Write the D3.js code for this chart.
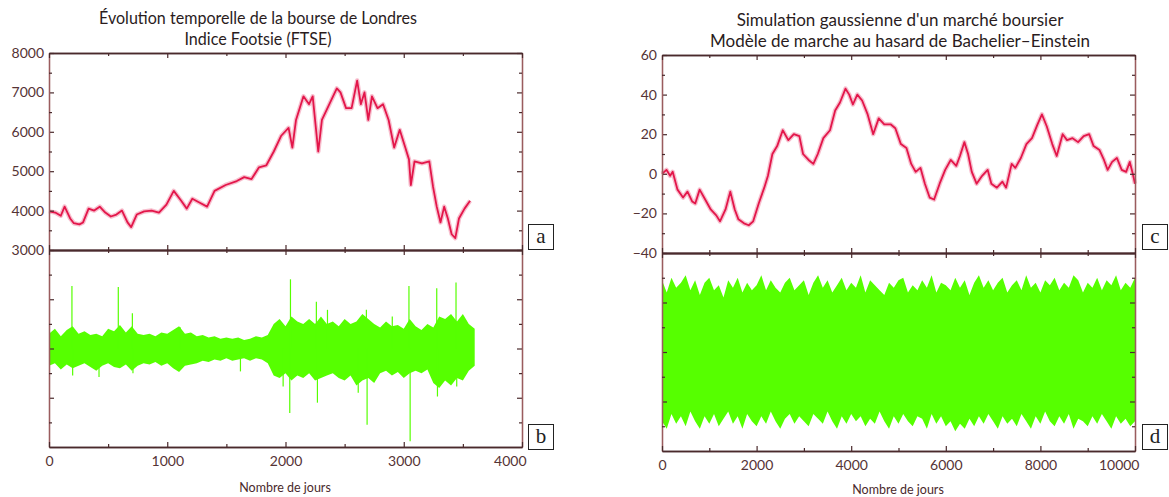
<!DOCTYPE html>
<html>
<head>
<meta charset="utf-8">
<script src="https://cdn.jsdelivr.net/npm/d3@7"></script>
<style>
  body { margin: 0; background: #fff; }
  svg { font-family: Lato, "Open Sans", sans-serif; }
</style>
</head>
<body>
<div id="chart"></div>
<script>
// ---- Data ----

// Panel a: FTSE index, trading day / index level
const ftseDays = [0,53,100,132,179,210,257,288,335,382,429,476,523,570,617,664,695,742,805,868,
  930,993,1055,1118,1165,1212,1275,1337,1400,1494,1588,1651,1713,1776,1838,1901,1964,2026,2058,2089,
  2152,2199,2230,2277,2308,2371,2434,2465,2512,2559,2606,2637,2668,2700,2731,2778,2825,2872,2919,2966,
  3013,3044,3060,3091,3154,3216,3248,3279,3311,3342,3373,3405,3436,3467,3514,3561];
const ftseValues = [3980,3950,3870,4100,3800,3680,3650,3700,4050,4000,4100,3950,3850,3900,4000,3700,3580,3900,3980,4000,
  3950,4150,4500,4250,4050,4300,4200,4100,4500,4650,4750,4850,4800,5100,5150,5500,5900,6100,5600,6300,
  6900,6700,6900,5500,6300,6700,7100,7000,6600,6600,7300,6700,7000,6300,6900,6600,6700,6300,5600,6050,
  5600,5300,4650,5250,5200,5250,4600,4100,3700,4100,3800,3400,3300,3800,4050,4250];

// Panel b: daily variations of the FTSE, band envelope (every 50 days) and isolated spikes
const bDays = d3.range(0, 3601, 50);
const bHigh = [0.6,0.8,0.5,0.75,0.9,0.6,0.7,0.55, 0.6,0.5,0.8,0.7,0.95,0.65,0.9,0.6,
  0.55,0.6,0.5,0.65,0.6,0.75,0.9,0.6, 0.65,0.5,0.55,0.45,0.5,0.4,0.45,0.4,
  0.45,0.35,0.4,0.5,0.45,0.55, 1.0,1.2,0.9,1.3,1.1,1.0,1.2,1.0,
  1.3,1.0,1.1,0.9,1.2,1.0,1.1,1.4, 1.2,1.0,0.85,1.1,0.9,0.95,0.8,1.2,
  0.9,0.75,1.0,0.85,1.3,1.2,1.4,1.1, 1.4,1.0,0.8];
const bLow = [-0.7,-0.6,-0.85,-0.65,-0.8,-0.7,-0.6,-0.75, -0.9,-0.7,-0.6,-0.75,-0.8,-0.65,-0.9,-0.7,
  -0.6,-0.65,-0.55,-0.7,-0.6,-0.8,-0.95,-0.7, -0.65,-0.6,-0.5,-0.55,-0.45,-0.5,-0.4,-0.5,
  -0.45,-0.4,-0.5,-0.4,-0.45,-0.6, -1.1,-1.2,-1.0,-1.3,-1.1,-1.2,-1.0,-1.3,
  -1.2,-1.1,-1.0,-1.2,-1.3,-1.1,-1.5,-1.3, -1.2,-1.4,-1.0,-0.9,-1.1,-0.95,-1.2,-1.0,
  -0.9,-1.0,-0.85,-1.4,-1.6,-1.3,-1.5,-1.2, -1.3,-0.9,-0.7];
const bSpikeDays   = [194,200,423,586,705,710,1109,1619,1980,2036,2042,2261,2270,2355,2615,2684,2690,2903,3044,3054,3279,3285,3442,3448];
const bSpikeValues = [2.54,-1.1,-1.16,2.5,1.43,-1.0,0.86,-0.93,-1.54,-2.62,2.81,1.9,-2.2,1.57,-1.8,1.57,-3.1,1.3,2.54,-3.77,2.45,-1.95,2.68,-1.54];

// Panel c: Bachelier-Einstein random walk
const walkDays = [0,94,172,226,328,445,539,640,703,796,913,1030,1147,1226,1343,1444,1538,1616,1733,1834,
  1928,2045,2162,2240,2334,2435,2553,2670,2787,2904,2982,3099,3200,3294,3411,3552,3661,3763,3880,3958,
  4036,4129,4231,4348,4465,4582,4699,4832,4933,5050,5168,5269,5363,5464,5558,5659,5753,5870,5987,6104,
  6221,6299,6393,6471,6549,6651,6768,6885,6963,7080,7197,7275,7392,7470,7587,7704,7822,7939,8032,8134,
  8251,8345,8470,8563,8680,8797,8915,9032,9125,9250,9344,9422,9516,9617,9719,9812,9890,9953,10000];
const walkValues = [0,2,-1,1,-8,-12,-9,-14,-15,-8,-13,-18,-21,-24,-18,-9,-18,-23,-25,-26,
  -24,-15,-7,-1,10,14,22,17,20,19,10,7,5,10,18,22,32,36,43,40,
  35,40,37,30,20,28,25,25,23,15,13,5,1,3,-5,-12,-13,-5,2,7,
  4,9,16,10,1,-5,-1,2,-5,-7,-4,-7,5,3,8,15,18,25,30,24,
  15,9,20,17,18,16,19,20,14,12,7,2,6,8,2,1,6,0,-5];

// Panel d: gaussian increments, envelope of the band every 100 days
const dDays = d3.range(0, 10001, 100);
const dHigh = [2.9,2.4,3.0,2.6,2.8,3.1,2.5,2.9,2.3,2.8, 3.0,2.5,2.7,2.2,2.9,2.6,3.0,2.4,2.8,2.5,
  2.7,3.1,2.5,2.9,2.6,2.4,2.8,3.0,2.5,2.7, 2.9,2.3,2.8,3.1,2.6,2.9,2.4,2.7,3.0,2.5,
  2.8,2.6,3.1,2.4,2.9,2.7,2.5,2.3,2.8,2.6, 2.9,3.0,2.4,2.7,2.5,2.9,2.6,3.1,2.4,2.8,
  2.7,2.5,3.0,2.6,2.9,2.3,2.8,3.1,2.6,2.9, 2.5,2.8,3.0,2.4,2.7,2.9,2.5,3.1,2.6,2.8,
  2.4,2.9,2.7,3.0,2.5,2.8,2.6,3.1,2.9,2.4, 2.8,2.6,3.0,2.5,2.9,2.7,3.1,2.5,2.8,2.6, 3.0];
const dLow = [-2.8,-3.1,-2.5,-2.9,-2.6,-3.0,-2.4,-2.8,-3.1,-2.6, -2.9,-2.5,-3.0,-2.7,-2.4,-2.9,-2.6,-3.1,-2.5,-2.8,
  -3.0,-2.6,-2.9,-2.4,-2.8,-3.1,-2.7,-2.5,-2.9,-2.6, -2.8,-3.0,-2.5,-2.7,-2.9,-2.4,-2.8,-3.1,-2.6,-2.9,
  -2.5,-2.8,-2.6,-3.0,-2.7,-2.9,-2.4,-2.8,-3.1,-2.6, -2.9,-2.5,-2.8,-3.0,-2.6,-2.7,-3.1,-2.5,-2.9,-2.6,
  -3.0,-2.8,-3.2,-2.9,-3.1,-2.7,-3.0,-2.6,-2.9,-2.5, -2.8,-3.1,-2.6,-2.9,-2.7,-3.0,-2.5,-2.8,-3.1,-2.6,
  -2.9,-2.4,-2.8,-3.0,-2.6,-2.9,-2.5,-3.1,-2.7,-2.8, -3.0,-2.6,-2.9,-2.5,-2.8,-3.1,-2.6,-2.9,-2.7,-3.0, -2.8];

// Tick values
const ftseTicks = [3000,4000,5000,6000,7000,8000];
const ftseMinor = [3500,4500,5500,6500,7500];
const leftDayTicks = [0,1000,2000,3000,4000];
const leftDayMinor = [500,1500,2500,3500];
const walkTicks = [-40,-20,0,20,40,60];
const walkMinor = [-30,-10,10,30,50];
const rightDayTicks = [0,2000,4000,6000,8000,10000];
const rightDayMinor = [1000,3000,5000,7000,9000];
const noiseTicks = [-2,0,2];
const noiseMinor = [-3,-1,1,3];

// ---- Layout ----
const svgWidth = 1169, svgHeight = 497;
const colRed = '#e3164a', colGreen = '#56ff00';
const colH = '#4a2a2c', colV = '#9a5c5e', colText = '#553335';

const svg = d3.select('#chart').append('svg')
  .attr('width', svgWidth).attr('height', svgHeight);

// Scales
const xLeft  = d3.scaleLinear().domain([0, 4000]).range([49, 522]);
const yFtse  = d3.scaleLinear().domain([3000, 8000]).range([250, 53]);
const yRet   = d3.scaleLinear().domain([-4, 4]).range([447, 250]);
const xRight = d3.scaleLinear().domain([0, 10000]).range([662, 1135]);
const yWalk  = d3.scaleLinear().domain([-40, 60]).range([253, 55]);
const yNoise = d3.scaleLinear().domain([-4, 4]).range([451, 253]);

// ---- Data marks (drawn first, frame on top) ----
const line = (x, y) => d3.line().x(d => x(d[0])).y(d => y(d[1]));

// green bands
svg.append('path')
  .datum(d3.zip(bDays, bHigh, bLow))
  .attr('d', d3.area().x(d => xLeft(d[0])).y0(d => yRet(d[2])).y1(d => yRet(d[1])))
  .attr('fill', colGreen);
svg.append('g').selectAll('line')
  .data(d3.zip(bSpikeDays, bSpikeValues))
  .enter().append('line')
  .attr('x1', d => xLeft(d[0])).attr('x2', d => xLeft(d[0]))
  .attr('y1', yRet(0)).attr('y2', d => yRet(d[1]))
  .attr('stroke', colGreen).attr('stroke-width', 1.2);

svg.append('path')
  .datum(d3.zip(dDays, dHigh, dLow))
  .attr('d', d3.area().x(d => xRight(d[0])).y0(d => yNoise(d[2])).y1(d => yNoise(d[1])))
  .attr('fill', colGreen);

// red curves with a soft halo
function redCurve(days, values, x, y) {
  const data = d3.zip(days, values);
  svg.append('path').datum(data).attr('d', line(x, y))
    .attr('fill', 'none').attr('stroke', '#f08aa6').attr('stroke-width', 4.5).attr('opacity', 0.55)
    .attr('stroke-linejoin', 'round');
  svg.append('path').datum(data).attr('d', line(x, y))
    .attr('fill', 'none').attr('stroke', colRed).attr('stroke-width', 1.8)
    .attr('stroke-linejoin', 'round');
}
redCurve(ftseDays, ftseValues, xLeft, yFtse);
redCurve(walkDays, walkValues, xRight, yWalk);

// ---- Frames and axes ----
const fmt = d3.format('d');

function axis(fn, scale, ticks, size, tx, ty, color, labels) {
  const ax = fn(scale).tickValues(ticks).tickSize(size).tickSizeOuter(0).tickPadding(5)
    .tickFormat(labels ? fmt : '');
  const g = svg.append('g').attr('transform', `translate(${tx},${ty})`).call(ax);
  g.select('.domain').attr('stroke', color).attr('stroke-width', 1.3);
  g.selectAll('.tick line').attr('stroke', colH).attr('stroke-width', 1.2);
  g.selectAll('.tick text').attr('fill', colText).style('font-size', '14px')
    .style('font-family', 'Lato, "Open Sans", sans-serif');
  return g;
}

function panel(x, y, xMaj, xMin, yMaj, yMin, showX, showY) {
  const [x0, x1] = x.range(), [y0, y1] = [y.range()[1], y.range()[0]];
  // left / right
  axis(d3.axisLeft, y, yMaj, -5, x0, 0, colV, showY);
  axis(d3.axisLeft, y, yMin, -3, x0, 0, colV, false);
  axis(d3.axisRight, y, yMaj, -5, x1, 0, colV, false);
  axis(d3.axisRight, y, yMin, -3, x1, 0, colV, false);
  // top / bottom
  axis(d3.axisTop, x, xMaj, -5, 0, y0, colH, false);
  axis(d3.axisTop, x, xMin, -3, 0, y0, colH, false);
  const gb = axis(d3.axisBottom, x, xMaj, -5, 0, y1, colH, showX);
  axis(d3.axisBottom, x, xMin, -3, 0, y1, colH, false);
  if (showX) {
    gb.selectAll('.tick text').attr('dy', '1em');
    gb.selectAll('.tick text').filter((d, i, n) => i === n.length - 1)
      .attr('text-anchor', 'end').attr('dx', 4);
  }
}

panel(xLeft, yFtse, leftDayTicks, leftDayMinor, ftseTicks, ftseMinor, false, true);
panel(xLeft, yRet, leftDayTicks, leftDayMinor, noiseTicks, noiseMinor, true, false);
panel(xRight, yWalk, rightDayTicks, rightDayMinor, walkTicks, walkMinor, false, true);
panel(xRight, yNoise, rightDayTicks, rightDayMinor, noiseTicks, noiseMinor, true, false);

// ---- Titles (the original face is narrower: squeeze both lines by the first line's ratio) ----
function title(lines, cx, baselines, firstWidth) {
  const texts = lines.map((s, i) => svg.append('text')
    .attr('x', cx).attr('y', baselines[i]).attr('text-anchor', 'middle')
    .attr('fill', '#2a1c1d').style('font-size', '17px').text(s));
  const k = Math.min(1, firstWidth / texts[0].node().getComputedTextLength());
  texts.forEach(t => {
    const w = t.node().getComputedTextLength();
    t.attr('textLength', w * k).attr('lengthAdjust', 'spacingAndGlyphs');
  });
}
title(['Évolution temporelle de la bourse de Londres', 'Indice Footsie (FTSE)'], 258, [24, 45], 318);
title(['Simulation gaussienne d\'un marché boursier', 'Modèle de marche au hasard de Bachelier–Einstein'], 900, [26, 47], 362);

// x axis names
[[285, 492], [898, 494]].forEach(p => {
  svg.append('text').attr('x', p[0]).attr('y', p[1]).attr('text-anchor', 'middle')
    .attr('fill', colH).style('font-size', '12.5px').text('Nombre de jours');
});

// ---- Panel letters ----
const letters = [['a', 528, 224], ['b', 528, 424], ['c', 1142, 224], ['d', 1142, 424]];
letters.forEach(l => {
  svg.append('rect').attr('x', l[1] + 0.5).attr('y', l[2] + 0.5).attr('width', 25).attr('height', 25)
    .attr('fill', '#fff').attr('stroke', '#222').attr('stroke-width', 1);
  svg.append('text').attr('x', l[1] + 13).attr('y', l[2] + 19).attr('text-anchor', 'middle')
    .style('font-family', '"Liberation Serif", "DejaVu Serif", serif').style('font-size', '21px')
    .attr('fill', '#222').text(l[0]);
});
</script>
</body>
</html>
